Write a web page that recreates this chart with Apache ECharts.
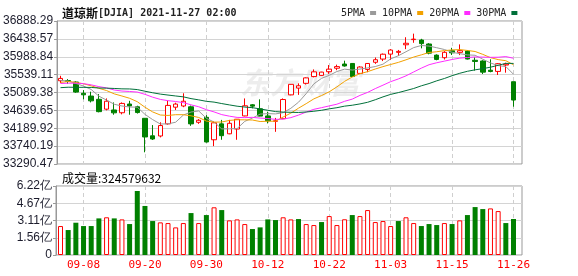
<!DOCTYPE html>
<html><head><meta charset="utf-8">
<script src="https://cdn.jsdelivr.net/npm/echarts@6/dist/echarts.min.js"></script>
<style>html,body{margin:0;padding:0;background:#fff}#c{width:578px;height:276px}</style>
</head><body><div id="c"></div>
<script>
const dates = ["09-02","09-03","09-07","09-08","09-09","09-10","09-13","09-14","09-15","09-16","09-17","09-20","09-21","09-22","09-23","09-24","09-27","09-28","09-29","09-30","10-01","10-04","10-05","10-06","10-07","10-08","10-11","10-12","10-13","10-14","10-15","10-18","10-19","10-20","10-21","10-22","10-25","10-26","10-27","10-28","10-29","11-01","11-02","11-03","11-04","11-05","11-08","11-09","11-10","11-11","11-12","11-15","11-16","11-17","11-18","11-19","11-22","11-23","11-24","11-26"];
const opens = [35385,35390,35353,35070,35000,34918,34670,34650,34580,34800,34730,34440,34000,33995,34300,34720,34750,34730,34340,34465,33900,34300,34050,34170,34500,34780,34680,34500,34365,34430,35030,35200,35320,35490,35520,35612,35700,35806,35820,35570,35670,35850,35930,36055,36100,36290,36420,36410,36310,36030,35965,36140,36100,36133,35900,35882,35650,35620,35780,35361];
const closes = [35443.82,35369.09,35100.00,35031.07,34879.38,34607.72,34869.63,34577.57,34814.39,34751.32,34584.88,33970.47,33919.84,34258.32,34764.82,34798.00,34869.37,34299.99,34390.72,33843.92,34326.46,34002.92,34314.67,34416.99,34754.94,34746.25,34496.06,34378.34,34377.81,34912.56,35294.76,35258.61,35457.31,35609.34,35603.08,35677.02,35741.15,35756.88,35490.69,35730.48,35819.56,35913.84,36052.63,36157.58,36124.23,36327.95,36432.22,36319.98,36079.94,35921.23,36100.31,36087.45,36142.22,35931.05,35870.95,35601.98,35619.25,35813.80,35804.38,34899.34];
const lows = [35327,35306,35080,34918,34840,34590,34640,34530,34540,34530,34560,33585,33895,33960,34280,34650,34720,34250,34300,33830,33740,33900,34040,33900,34490,34690,34490,34312,34100,34420,35020,35030,35290,35470,35510,35560,35650,35740,35480,35560,35600,35810,35880,35906,36010,36180,36340,36200,36050,35900,35920,36033,36030,35920,35640,35555,35598,35530,35588,34732];
const highs = [35510,35426,35371,35150,35110,35050,34940,34840,34840,34880,34757,34440,34270,34340,34880,34833,35070,34760,34420,34520,34360,34400,34400,34420,34940,34800,34917,34606,34450,34940,35300,35320,35470,35670,35610,35780,35790,35890,35830,35750,35830,35970,36070,36180,36160,36480,36570,36440,36330,36050,36130,36213,36300,36150,35975,35900,35925,35830,35840,35361];
const volumes = [261000000,225000000,291000000,261000000,261000000,330000000,340000000,330000000,321000000,279000000,577000000,442000000,306000000,294000000,288000000,249000000,288000000,378000000,288000000,360000000,430000000,405000000,312000000,321000000,279000000,234000000,249000000,321000000,315000000,340000000,321000000,324000000,279000000,270000000,297000000,351000000,270000000,322000000,360000000,351000000,405000000,297000000,306000000,261000000,306000000,340000000,288000000,261000000,279000000,270000000,288000000,279000000,312000000,360000000,432000000,414000000,420000000,396000000,288000000,324579632];
const ma5 = [35395,35377,35317,35251,35165,34997,34898,34793,34750,34724,34720,34540,34408,34297,34300,34342,34522,34598,34625,34440,34346,34173,34176,34181,34363,34447,34546,34558,34551,34582,34692,34845,35060,35307,35445,35521,35617,35677,35654,35679,35708,35742,35802,35935,36014,36115,36219,36272,36257,36216,36171,36102,36066,36036,36026,35927,35833,35767,35742,35548];
const ma10 = [35342,35366,35343,35309,35257,35196,35138,35055,35001,34944,34858,34719,34601,34523,34512,34531,34531,34503,34461,34370,34344,34347,34387,34403,34402,34397,34359,34367,34366,34473,34570,34695,34809,34929,35013,35107,35231,35369,35480,35562,35614,35680,35740,35794,35847,35912,35981,36037,36096,36115,36143,36160,36169,36147,36121,36049,35967,35917,35889,35787];
const ma20 = [35316,35324,35324,35312,35282,35237,35205,35152,35126,35115,35100,35043,34972,34916,34884,34863,34834,34779,34731,34657,34601,34533,34494,34463,34457,34464,34445,34435,34413,34421,34457,34521,34598,34666,34708,34752,34795,34868,34923,35017,35092,35188,35274,35362,35430,35509,35606,35703,35788,35838,35879,35920,35954,35970,35984,35980,35974,35977,35993,35951];
const ma30 = [35211,35222,35220,35219,35217,35202,35199,35191,35181,35179,35163,35122,35083,35049,35025,35002,34980,34936,34904,34867,34848,34811,34777,34745,34723,34708,34676,34642,34609,34596,34591,34587,34599,34618,34642,34678,34707,34746,34769,34802,34843,34907,34979,35042,35087,35138,35190,35258,35314,35383,35442,35512,35573,35623,35660,35689,35726,35774,35822,35821];
const prevClose = 35312.53;
const priceTicks = ["33290.47","33740.19","34189.92","34639.65","35089.38","35539.11","35988.84","36438.57","36888.29"];
const priceMin = 33290.47, priceMax = 36888.29;
const volTicks = ["0","1.56亿","3.11亿","4.67亿","6.22亿"];
const volMax = 622000000;
const maNames = ["5PMA","10PMA","20PMA","30PMA"];
const titleName = "道琼斯", titleRest = "[DJIA] 2021-11-27 02:00";
const volTitle = "成交量:", lastVolume = "324579632";

const RED = '#ff0000', GREEN = '#008000';
const maColors = ['#9a9a9a', '#f2a100', '#ff2cff', '#00703a'];
const ohlc = dates.map((d, i) => [opens[i], closes[i], lows[i], highs[i]]);
const volData = volumes.map((v, i) => {
  const pc = i === 0 ? prevClose : closes[i - 1];
  const up = closes[i] >= pc;
  return { value: v, itemStyle: up ? { color: '#fff', borderColor: RED, borderWidth: 1 } : { color: GREEN, borderColor: GREEN, borderWidth: 0 } };
});
const labelIdx = i => i % 8 === 3;
const labFont = { fontFamily: 'Liberation Sans', fontSize: 12, color: '#1c1c2c' };

const chart = echarts.init(document.getElementById('c'), null, { renderer: 'canvas' });
chart.setOption({
  animation: false,
  backgroundColor: '#fff',
  title: [
    { left: 57, top: 2, text: '{c|' + titleName + '}{a|' + titleRest + '}',
      textStyle: { rich: {
        c: { fontFamily: 'Noto Sans CJK SC', fontSize: 12, color: '#111' },
        a: { fontFamily: 'DejaVu Sans Mono', fontSize: 10, color: '#222' } } } },
    { left: 57, top: 167, text: volTitle + lastVolume,
      textStyle: { fontFamily: 'Noto Sans CJK SC', fontSize: 12, fontWeight: 'normal', color: '#000' } }
  ],
  legend: {
    left: 336, top: 3, align: 'right', icon: 'rect', itemWidth: 6, itemHeight: 4, itemGap: 6,
    selectedMode: false, data: maNames,
    textStyle: { fontFamily: 'DejaVu Sans Mono', fontSize: 10, color: '#222' }
  },
  graphic: [
    { type: 'text', left: 240, top: 68, z: 0, silent: true,
      style: { text: '东方财富', font: 'italic bold 30px "Noto Sans CJK SC"', fill: 'rgba(0,0,0,0.07)' } }
  ],
  grid: [
    { left: 56, top: 21, width: 466, height: 143, show: true, borderColor: '#999', borderWidth: 1, backgroundColor: 'transparent' },
    { left: 56, top: 186, width: 466, height: 69, show: true, borderColor: '#999', borderWidth: 1, backgroundColor: 'transparent' },
    { left: 60.5, top: 21, width: 453, height: 143 },
    { left: 60.5, top: 186, width: 453, height: 69 }
  ],
  xAxis: [
    { gridIndex: 0, type: 'value', min: 0, max: 1, show: false },
    { gridIndex: 1, type: 'value', min: 0, max: 1, show: false },
    { gridIndex: 2, type: 'category', data: dates, boundaryGap: false,
      axisLine: { show: false }, axisTick: { show: false }, axisLabel: { show: false },
      splitLine: { show: true, interval: labelIdx, lineStyle: { color: '#cfcfcf', type: [4, 3], width: 1 } } },
    { gridIndex: 3, type: 'category', data: dates, boundaryGap: false,
      axisLine: { show: false }, axisTick: { show: false },
      axisLabel: { show: true, interval: labelIdx, color: RED, fontFamily: 'DejaVu Sans Mono', fontSize: 11, margin: 5 },
      splitLine: { show: true, interval: labelIdx, lineStyle: { color: '#cfcfcf', type: [4, 3], width: 1 } } }
  ],
  yAxis: [
    { gridIndex: 0, type: 'value', min: 0, max: 8, interval: 1,
      axisLine: { show: true, lineStyle: { color: '#999' } },
      axisTick: { show: true, length: 3, lineStyle: { color: '#999' } },
      axisLabel: Object.assign({ margin: 4, formatter: v => priceTicks[Math.round(v)] }, labFont),
      splitLine: { show: true, lineStyle: { color: '#d4d4d4', width: 1 } } },
    { gridIndex: 1, type: 'value', min: 0, max: 4, interval: 1,
      axisLine: { show: true, lineStyle: { color: '#999' } },
      axisTick: { show: true, length: 3, lineStyle: { color: '#999' } },
      axisLabel: Object.assign({ margin: 4, formatter: v => volTicks[Math.round(v)] }, labFont),
      splitLine: { show: true, lineStyle: { color: '#d4d4d4', width: 1 } } },
    { gridIndex: 2, type: 'value', min: priceMin, max: priceMax, show: false },
    { gridIndex: 3, type: 'value', min: 0, max: volMax, show: false }
  ],
  series: [
    { type: 'candlestick', name: 'DJIA', xAxisIndex: 2, yAxisIndex: 2, data: ohlc, barWidth: 5, clip: false,
      itemStyle: { color: '#fff', color0: GREEN, borderColor: RED, borderColor0: GREEN, borderWidth: 1 } },
    ...[ma5, ma10, ma20, ma30].map((arr, k) => ({
      type: 'line', name: maNames[k], xAxisIndex: 2, yAxisIndex: 2, data: arr, symbol: 'none', smooth: false,
      itemStyle: { color: maColors[k] }, lineStyle: { color: maColors[k], width: 1 }, z: 3
    })),
    { type: 'bar', name: 'vol', xAxisIndex: 3, yAxisIndex: 3, data: volData, barWidth: 5, clip: false }
  ]
});
</script></body></html>
